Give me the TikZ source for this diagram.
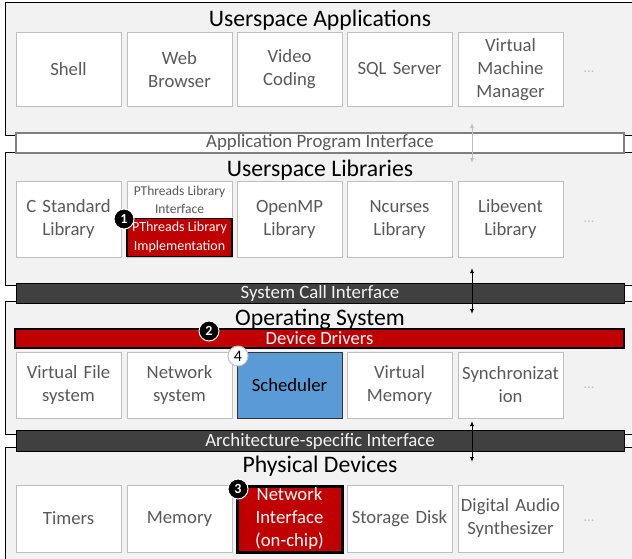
\documentclass[tikz,border=0pt]{standalone}
\usepackage{fontspec}
\setmainfont{Carlito}
\usetikzlibrary{arrows.meta}
\definecolor{layerfill}{HTML}{F2F2F2}
\definecolor{boxline}{HTML}{BFBFBF}
\definecolor{boxtext}{HTML}{595959}
\definecolor{darkbar}{HTML}{404040}
\definecolor{ddred}{HTML}{C00000}
\definecolor{schedblue}{HTML}{5B9BD5}
\definecolor{barline}{HTML}{7F7F7F}
\begin{document}
\begin{tikzpicture}[x=1pt,y=-1pt,
  layer/.style={draw=black, fill=layerfill, line width=0.9pt, anchor=north west, inner sep=0pt},
  comp/.style={draw=boxline, fill=white, line width=1pt, minimum width=105pt, text width=104pt,
    align=center, text=boxtext, inner sep=0pt, font=\fontsize{18.7}{23}\selectfont},
  ttl/.style={font=\fontsize{23.7}{26}\selectfont, text=black, inner sep=0pt},
  ifbar/.style={minimum width=608pt, minimum height=20pt, inner sep=0pt, line width=1.5pt,
    font=\fontsize{18.8}{20}\selectfont},
  dots/.style={text=boxline, font=\fontsize{14}{14}\selectfont, inner sep=0pt},
  badge/.style={circle, fill=black, draw=white, line width=1pt, text=white, minimum size=20pt,
    inner sep=0pt, font=\bfseries\fontsize{14}{14}\selectfont},
  wbadge/.style={circle, fill=white, draw=boxline, line width=1pt, text=black, minimum size=20pt,
    inner sep=0pt, font=\fontsize{16}{16}\selectfont},
  garrow/.style={draw=boxline, line width=1pt, {Latex[length=5pt,width=4pt]}-{Latex[length=5pt,width=4pt]}},
  barrow/.style={draw=black, line width=1pt, {Latex[length=5pt,width=4pt]}-{Latex[length=5pt,width=4pt]}}
]
\clip (0,0) rectangle (632,558);
\fill[white] (0,0) rectangle (632,558);

% layers
\node[layer, minimum width=640pt, minimum height=133pt] (L1) at (4.5,2) {};
\node[layer, minimum width=640pt, minimum height=133pt] (L2) at (4.5,152) {};
\node[layer, minimum width=640pt, minimum height=133.5pt] (L3) at (4.5,300.5) {};
\node[layer, minimum width=640pt, minimum height=130pt] (L4) at (4.5,447) {};

% titles
\node[ttl] (t1) at (320,20) {Userspace Applications};
\node[ttl] (t2) at (320,170) {Userspace Libraries};
\node[ttl] (t3) at (320,319) {Operating System};
\node[ttl] (t4) at (320,466) {Physical Devices};

% applications
\node[comp, minimum height=74pt] (shell) at (68.5,69.5) {Shell};
\node[comp, minimum height=74pt] (web) at (179.5,69.5) {Web\\Browser};
\node[comp, minimum height=74pt] (video) at (289.5,69.5) {Video\\Coding};
\node[comp, minimum height=74pt] (sql) at (399.5,69.5) {SQL Server};
\node[comp, minimum height=74pt] (vmm) at (510.5,69.5) {Virtual\\Machine\\Manager};
\node[dots] (d1) at (589,72) {...};

% libraries
\node[comp, minimum height=76pt] (libc) at (68.5,219.5) {C Standard\\Library};
\node[comp, minimum height=76pt, anchor=north] (pif) at (179.5,181) {};
\node[text=boxtext, align=center, inner sep=0pt, font=\fontsize{13.5}{18.5}\selectfont] (piftxt) at (179.5,200) {PThreads Library\\Interface};
\node[draw=black, fill=ddred, line width=1.5pt, minimum width=105pt, minimum height=38pt, inner sep=0pt,
  text=white, align=center, font=\fontsize{14}{18.5}\selectfont] (pimpl) at (179.5,237.5) {PThreads Library\\Implementation};
\node[comp, minimum height=76pt] (omp) at (289.5,219.5) {OpenMP\\Library};
\node[comp, minimum height=76pt] (ncur) at (399.5,219.5) {Ncurses\\Library};
\node[comp, minimum height=76pt] (levt) at (510.5,219.5) {Libevent\\Library};
\node[dots] (d2) at (589,222) {...};

% operating system
\node[draw=black, fill=ddred, line width=1.5pt, minimum width=609pt, minimum height=19pt, inner sep=0pt,
  text=white, font=\fontsize{18.6}{19}\selectfont] (dd) at (319.5,338.5) {Device Drivers};
\node[comp, minimum height=66pt] (vfs) at (68.5,385) {Virtual File\\system};
\node[comp, minimum height=66pt] (net) at (179.5,385) {Network\\system};
\node[comp, minimum height=66pt, fill=schedblue, draw=black!80, text=black] (sched) at (289.5,385) {Scheduler};
\node[comp, minimum height=66pt] (vm) at (399.5,385) {Virtual\\Memory};
\node[comp, minimum height=66pt] (sync) at (510.5,385) {Synchronizat\\ion};
\node[dots] (d3) at (589,388) {...};

% physical devices
\node[comp, minimum height=67pt] (tim) at (68.5,518.5) {Timers};
\node[comp, minimum height=67pt] (mem) at (179.5,518.5) {Memory};
\node[comp, minimum height=66pt, fill=ddred, draw=black, line width=3pt, text=white] (nic) at (289.5,519) {Network\\Interface\\(on-chip)};
\node[comp, minimum height=67pt] (disk) at (399.5,518.5) {Storage Disk};
\node[comp, minimum height=67pt] (audio) at (510.5,518.5) {Digital Audio\\Synthesizer};
\node[dots] (d4) at (589,521) {...};

% interface bars
\node[ifbar, draw=barline, fill=white, text=boxtext] (api) at (320,143) {Application Program Interface};
\node[ifbar, draw=black, fill=darkbar, text=layerfill, line width=1pt] (sci) at (320,293) {System Call Interface};
\node[ifbar, draw=black, fill=darkbar, text=layerfill, line width=1pt, minimum height=21pt] (asi) at (320,441) {Architecture-specific Interface};

% arrows
\coordinate (a1) at (472,123);
\coordinate (a2) at (472,163);
\coordinate (s1) at (472,268);
\coordinate (s2) at (472,314);
\coordinate (h1) at (472,421);
\coordinate (h2) at (472,462);
\draw[garrow] (a1) -- (a2);
\draw[barrow] (s1) -- (s2);
\draw[barrow] (h1) -- (h2);

% badges
\node[badge] (b1) at (124,219) {1};
\node[badge] (b2) at (209,331) {2};
\node[badge] (b3) at (238,489) {3};
\node[wbadge] (b4) at (238,356) {4};
\end{tikzpicture}
\end{document}
